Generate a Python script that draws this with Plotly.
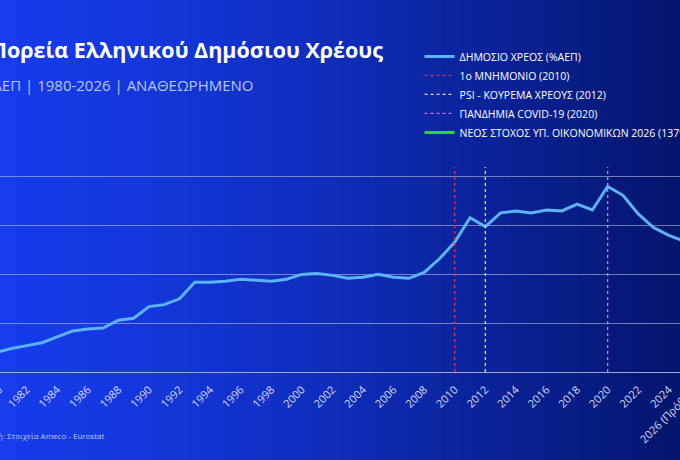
import plotly.graph_objects as go

years = list(range(1980, 2027))
debt = [20, 24, 27, 30, 36, 42, 44, 45, 53, 55, 67, 69, 75, 92, 92, 93, 95, 94, 93, 95,
        100, 101, 99, 96, 97, 100, 97, 96, 102, 116, 133, 158, 149, 163, 165, 163, 166, 165,
        172, 166, 190, 181, 162, 148, 140, 134, 128]
tick_years = list(range(1980, 2025, 2))
tick_labels = [str(y) for y in tick_years]
events = [(2010, "1ο ΜΝΗΜΟΝΙΟ (2010)", "#e0303a"),
          (2012, "PSI - ΚΟΥΡΕΜΑ ΧΡΕΟΥΣ (2012)", "#f0d8a0"),
          (2020, "ΠΑΝΔΗΜΙΑ COVID-19 (2020)", "#e070e0")]
target_year, target_val = 2026, 137

fig = go.Figure()
fig.add_trace(go.Scatter(x=years, y=debt, mode="lines", name="ΔΗΜΟΣΙΟ ΧΡΕΟΣ (%ΑΕΠ)",
                         line=dict(color="#5ab4f5", width=3)))
for yr, name, col in events:
    fig.add_trace(go.Scatter(x=[yr, yr], y=[0, 210], mode="lines", name=name,
                             line=dict(color=col, width=1.3, dash="dot")))
fig.add_trace(go.Scatter(x=[target_year], y=[target_val], mode="lines+markers",
                         name="ΝΕΟΣ ΣΤΟΧΟΣ ΥΠ. ΟΙΚΟΝΟΜΙΚΩΝ 2026 (137%)",
                         line=dict(color="#30d040", width=3), marker=dict(size=0.1)))

n = 40
shapes = []
for i in range(n):
    t = i / (n - 1)
    c0 = (22, 60, 235); c1 = (5, 22, 110)
    tt = t ** 1.3
    col = tuple(int(c0[k] + (c1[k] - c0[k]) * tt) for k in range(3))
    shapes.append(dict(type="rect", xref="paper", yref="paper", x0=i / n, x1=(i + 1) / n + 0.002,
                       y0=-1, y1=3, fillcolor="rgb(%d,%d,%d)" % col, line=dict(width=0), layer="below"))

fig.update_layout(
    width=680, height=460, margin=dict(l=0, r=0, t=167, b=88, autoexpand=False),
    paper_bgcolor="#061a80", plot_bgcolor="rgba(0,0,0,0)", shapes=shapes,
    font=dict(family="Open Sans", color="white"),
    xaxis=dict(range=[1980.26, 2024.73], tickvals=tick_years, ticktext=tick_labels, tickangle=-45,
               showgrid=False, zeroline=False, showline=True, linecolor="rgba(200,200,220,0.8)",
               tickfont=dict(size=11, color="#d8dcf0"), automargin=False, ticks="outside",
               ticklen=6, tickcolor="rgba(0,0,0,0)"),
    yaxis=dict(range=[0, 210], dtick=50, showgrid=True, gridcolor="rgba(190,190,210,0.6)",
               showticklabels=False, zeroline=False, automargin=False),
    legend=dict(x=0.617, y=1.61, xanchor="left", yanchor="top", bgcolor="rgba(0,0,0,0)",
                font=dict(size=10.5, color="white"), tracegroupgap=0, itemwidth=30),
    showlegend=True,
)
fig.add_annotation(xref="paper", yref="paper", x=385 / 680, y=1 + (167 - 50) / 205, xanchor="right",
                   yanchor="middle", showarrow=False, text="<b>Πορεία Ελληνικού Δημόσιου Χρέους</b>",
                   font=dict(size=21.5, color="white", family="Open Sans"))
fig.add_annotation(xref="paper", yref="paper", x=255 / 680, y=1 + (167 - 85) / 205, xanchor="right",
                   yanchor="middle", showarrow=False, text="ΧΡΕΟΣ % ΑΕΠ | 1980-2026 | ΑΝΑΘΕΩΡΗΜΕΝΟ",
                   font=dict(size=15, color="#b8c8f0", family="Open Sans"))
fig.add_annotation(xref="paper", yref="paper", x=106 / 680, y=-(435 - 372) / 205, xanchor="right",
                   yanchor="middle", showarrow=False, text="Πηγή: Στοιχεία Ameco - Eurostat",
                   font=dict(size=8, color="#c0c8e8"))
fig.add_annotation(xref="paper", yref="paper", x=700 / 680, y=-(382 - 372) / 205, showarrow=False,
                   xanchor="right", yanchor="top",
                   text="2026 (Πρόβλ.)", textangle=-45, font=dict(size=11, color="#d8dcf0"))
fig.add_annotation(xref="paper", yref="paper", x=8 / 680, y=-(380 - 372) / 205, showarrow=False,
                   xanchor="right", yanchor="top",
                   text="1980", textangle=-45, font=dict(size=11, color="#d8dcf0"))
fig.write_html("out.html", config={"displayModeBar": False},
               post_script="document.body.style.margin='0';document.body.style.overflow='hidden';")
